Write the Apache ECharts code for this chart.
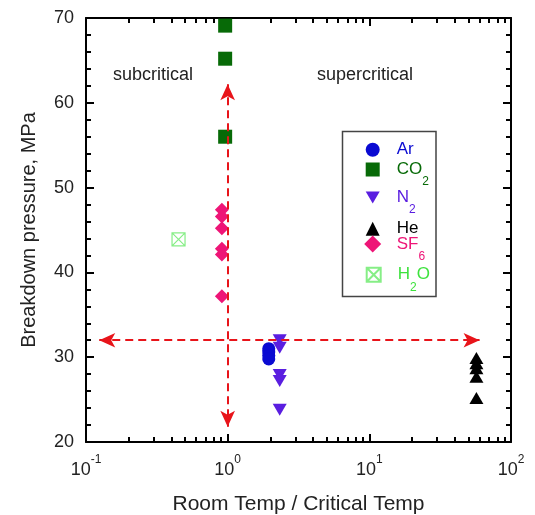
<!DOCTYPE html>
<html>
<head>
<meta charset="utf-8">
<script src="https://cdn.jsdelivr.net/npm/echarts@6/dist/echarts.min.js"></script>
<style>html,body{margin:0;padding:0;background:#fff;}#c{width:535px;height:515px;}</style>
</head>
<body>
<div id="c"></div>
<script>
// ---- data ----
const arX  = [1.95, 1.95, 1.95, 1.95];
const arY  = [31.0, 30.6, 30.2, 29.8];
const co2X = [0.96, 0.96, 0.96];
const co2Y = [69.1, 65.2, 56.0];
const n2X  = [2.33, 2.33, 2.33, 2.33, 2.33];
const n2Y  = [32.0, 31.1, 27.9, 27.2, 23.8];
const heX  = [57, 57, 57, 57, 57];
const heY  = [29.9, 29.3, 28.7, 27.7, 25.2];
const sf6X = [0.91, 0.91, 0.91, 0.91, 0.91, 0.91];
const sf6Y = [47.4, 46.6, 45.2, 42.8, 42.1, 37.2];
const h2oX = [0.45];
const h2oY = [43.9];
// arrows
const vArrowX = 1;
const vArrowY = [62.2, 21.8];
const hArrowY = 32.0;
const hArrowX = [0.124, 60];
// ticks
const xTickExponents = [-1, 0, 1, 2];
const yTicks = [20, 30, 40, 50, 60, 70];
const xMinorMultipliers = [2, 3, 4, 5, 6, 7, 8, 9];

const pts = (xs, ys) => xs.map((x, i) => [x, ys[i]]);
const minorLog = [];
xTickExponents.slice(0, -1).forEach(e => xMinorMultipliers.forEach(k => minorLog.push(Math.log10(k) + e)));

const FONT = 'Liberation Sans, Arial, sans-serif';
const downTri = 'path://M0,0L10,0L5,8.66Z';
const boxX = 'path://M0,0L10,0L10,10L0,10Z M0,0L10,10 M10,0L0,10';

const C = {
  ar: '#0a0ad2', co2: '#076a07', n2: '#5a1ee0', he: '#000000', sf6: '#ee1577', h2o: '#86ee86', h2oText: '#3ee23e'
};

const axisLineStyle = { color: '#000', width: 2 };

function majorX(pos, labels) {
  return {
    type: 'log', logBase: 10, min: 0.1, max: 100, position: pos,
    axisLine: { show: true, onZero: false, lineStyle: axisLineStyle },
    axisTick: { show: true, inside: true, length: 8, lineStyle: { color: '#000', width: 2 } },
    minorTick: { show: false },
    splitLine: { show: false },
    axisLabel: labels ? {
      show: true, margin: 12,
      formatter: v => '{b|10}{s|' + Math.round(Math.log10(v)) + '}',
      rich: {
        b: { fontSize: 18, fontFamily: FONT, color: '#222', padding: [7, 0, 0, 0], verticalAlign: 'bottom' },
        s: { fontSize: 12, fontFamily: FONT, color: '#222', verticalAlign: 'top' }
      }
    } : { show: false },
    name: labels ? 'Room Temp / Critical Temp' : '',
    nameLocation: 'middle', nameGap: 52,
    nameTextStyle: { fontSize: 21, fontFamily: FONT, color: '#222' }
  };
}
function minorX(pos) {
  return {
    type: 'value', min: -1, max: 2, position: pos,
    axisLine: { show: false, onZero: false },
    axisTick: { show: true, inside: true, length: 5, customValues: minorLog, lineStyle: { color: '#000', width: 2 } },
    axisLabel: { show: false },
    splitLine: { show: false }
  };
}
function yAx(pos, labels) {
  return {
    type: 'value', min: 20, max: 70, interval: 10, position: pos,
    axisLine: { show: true, onZero: false, lineStyle: axisLineStyle },
    axisTick: { show: true, inside: true, length: 8, lineStyle: { color: '#000', width: 2 } },
    minorTick: { show: true, splitNumber: 5, length: 5, lineStyle: { color: '#000', width: 2 } },
    splitLine: { show: false },
    axisLabel: labels ? { show: true, margin: 12, fontSize: 18, fontFamily: FONT, color: '#222',
      customValues: yTicks } : { show: false },
    name: labels ? 'Breakdown pressure, MPa' : '',
    nameLocation: 'middle', nameGap: 47,
    nameTextStyle: { fontSize: 20, fontFamily: FONT, color: '#222' }
  };
}

function legendFor(name, icon, cy, color, rich, size) {
  const s = size || 14;
  return {
    data: [{ name: name, icon: icon }],
    left: 372.7 - s / 2, top: cy - s / 2, padding: 0,
    itemWidth: s, itemHeight: s,
    selectedMode: false,
    formatter: () => rich || ('{p|' + name + '}'),
    textStyle: {
      color: color, fontSize: 17, fontFamily: FONT,
      rich: {
        p: { fontSize: 17, fontFamily: FONT, color: color, padding: [0, 0, 0, 19 - s / 2] },
        n: { fontSize: 17, fontFamily: FONT, color: color, padding: [10, 0, 10, 0], verticalAlign: 'middle' },
        f: { fontSize: 17, fontFamily: FONT, color: color, padding: [10, 0, 10, 19 - s / 2], verticalAlign: 'middle' },
        s: { fontSize: 12, fontFamily: FONT, color: color, verticalAlign: 'bottom' }
      }
    }
  };
}

const arrowLine = { color: '#e8141a', width: 2, type: [8, 5] };

const option = {
  animation: false,
  backgroundColor: '#fff',
  grid: { left: 86, right: 24, top: 18, bottom: 73, containLabel: false, outerBoundsMode: 'none' },
  xAxis: [majorX('bottom', true), minorX('bottom'), majorX('top', false), minorX('top')],
  yAxis: [yAx('left', true), yAx('right', false)],
  legend: [
    legendFor('Ar', 'circle', 148.3, C.ar),
    legendFor('CO2', 'rect', 168, C.co2, '{f|CO}{s|2}'),
    legendFor('N2', downTri, 196, C.n2, '{f|N}{s|2}'),
    legendFor('He', 'triangle', 227.3, C.he),
    legendFor('SF6', 'diamond', 244, C.sf6, '{f|SF}{s|6}', 17),
    legendFor('H2O', boxX, 273.3, C.h2oText, '{f|H}{s|2}{n|O}')
  ],
  graphic: [
    { type: 'rect', shape: { x: 342.5, y: 131.5, width: 93.5, height: 165 }, style: { fill: 'none', stroke: '#444', lineWidth: 1.5 }, z: 1 },
    { type: 'text', x: 153, y: 75, style: { text: 'subcritical', font: '18px ' + FONT, fill: '#222', textAlign: 'center', textVerticalAlign: 'middle' } },
    { type: 'text', x: 365, y: 75, style: { text: 'supercritical', font: '18px ' + FONT, fill: '#222', textAlign: 'center', textVerticalAlign: 'middle' } }
  ],
  series: [
    {
      name: 'H2O', type: 'scatter', data: pts(h2oX, h2oY), symbol: boxX, symbolSize: 13,
      itemStyle: { color: 'rgba(255,255,255,0)', borderColor: C.h2o, borderWidth: 1.2, opacity: 1 }, z: 3
    },
    {
      name: 'CO2', type: 'scatter', data: pts(co2X, co2Y), symbol: 'rect', symbolSize: 14,
      itemStyle: { color: C.co2, opacity: 1 }, z: 3
    },
    {
      name: 'SF6', type: 'scatter', data: pts(sf6X, sf6Y), symbol: 'diamond', symbolSize: 14,
      itemStyle: { color: C.sf6, opacity: 1 }, z: 3
    },
    {
      name: 'Ar', type: 'scatter', data: pts(arX, arY), symbol: 'circle', symbolSize: 13,
      itemStyle: { color: C.ar, opacity: 1 }, z: 3
    },
    {
      name: 'N2', type: 'scatter', data: pts(n2X, n2Y), symbol: downTri, symbolSize: [14, 12],
      itemStyle: { color: C.n2, opacity: 1 }, z: 3
    },
    {
      name: 'He', type: 'scatter', data: pts(heX, heY), symbol: 'triangle', symbolSize: [14, 12],
      itemStyle: { color: C.he, opacity: 1 }, z: 3,
      markLine: {
        silent: true, symbol: ['arrow', 'arrow'], symbolSize: [11, 16], label: { show: false },
        lineStyle: arrowLine, emphasis: { disabled: true }, z: 4,
        data: [
          [{ coord: [vArrowX, vArrowY[0]] }, { coord: [vArrowX, vArrowY[1]] }],
          [{ coord: [hArrowX[0], hArrowY] }, { coord: [hArrowX[1], hArrowY] }]
        ]
      }
    }
  ]
};

const chart = echarts.init(document.getElementById('c'), null, { renderer: 'canvas' });
chart.setOption(option);
</script>
</body>
</html>
